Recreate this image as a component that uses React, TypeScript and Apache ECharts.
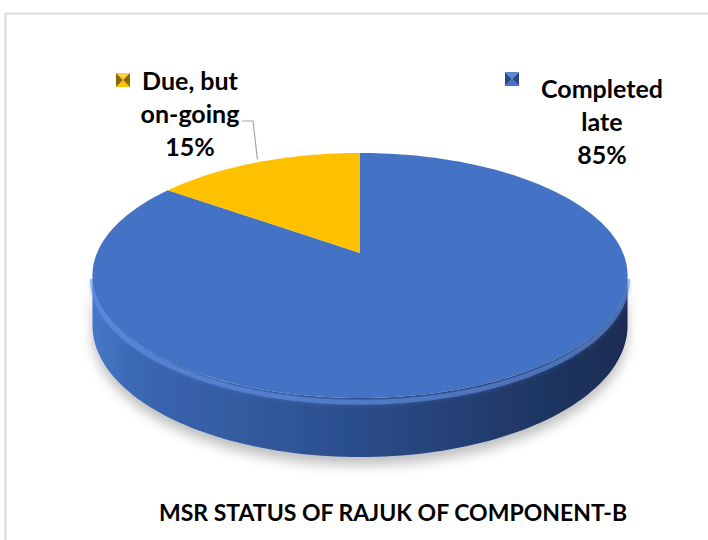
import React, { useEffect, useRef } from "react";
import * as echarts from "echarts";

// ---- data ----
const categories = ["Completed late", "Due, but on-going"];
const values = [85, 15];
const labelLines = [["Completed", "late"], ["Due, but", "on-going"]];
const sliceColors = ["#4472C4", "#FFC000"];
const markerDark = ["#2a4a85", "#8a6a00"];
const markerLight = ["#5b86d6", "#ffd040"];
const title = "MSR STATUS OF RAJUK OF COMPONENT-B";

// ---- layout (positions, not data) ----
const labelLayout = [
  { x: 602, y: 121, marker: [505, 72], leader: null as null | number[][] },
  { x: 190, y: 113, marker: [116, 73], leader: [[242, 121], [253, 121]] },
];

const total = values.reduce((a, b) => a + b, 0);
const starts: number[] = [];
{
  let acc = 0;
  values.forEach((v) => {
    starts.push(acc);
    acc += v;
  });
}

// perspective disc geometry
const CX = 360,
  CY = 253,
  A = 263,
  B = 118.4,
  K = 0.1837,
  H = 48.2;

function proj(t: number, h: number): number[] {
  const u = Math.cos(t),
    v = Math.sin(t);
  const d = 1 + K * v;
  return [CX + (A * u) / d, CY - (B * v) / d + (H * h) / d];
}

function arc(t0: number, t1: number, h: number): number[][] {
  const n = Math.max(2, Math.ceil((Math.abs(t1 - t0) / (Math.PI * 2)) * 240));
  const pts: number[][] = [];
  for (let i = 0; i <= n; i++) {
    pts.push(proj(t0 + ((t1 - t0) * i) / n, h));
  }
  return pts;
}

const FONT = "Lato, 'Open Sans', sans-serif";

function renderItem(params: any, api: any) {
  const idx = params.dataIndex;
  const v = api.value(0);
  const f0 = starts[idx] / total;
  const f1 = (starts[idx] + v) / total;
  const tStart = Math.PI / 2 - 2 * Math.PI * f0;
  const tEnd = Math.PI / 2 - 2 * Math.PI * f1;
  const children: any[] = [];

  // visible side
  const vlo = -Math.PI + Math.asin(K);
  const vhi = -Math.asin(K);
  for (let n = -1; n <= 1; n++) {
    const lo = Math.max(tEnd, vlo + 2 * Math.PI * n);
    const hi = Math.min(tStart, vhi + 2 * Math.PI * n);
    if (hi > lo) {
      const top = arc(hi, lo, 0);
      const bot = arc(lo, hi, 1);
      children.push({
        type: "polygon",
        shape: { points: top.concat(bot) },
        style: {
          fill: new echarts.graphic.LinearGradient(0, 0, 1, 0, [
            { offset: 0, color: "#4677c8" },
            { offset: 0.08, color: "#3b67b2" },
            { offset: 0.45, color: "#2d5090" },
            { offset: 0.8, color: "#203866" },
            { offset: 1, color: "#1a2c52" },
          ]),
          shadowColor: "rgba(0,0,0,0.25)",
          shadowBlur: 12,
          shadowOffsetY: 8,
        },
      });
      children.push({
        type: "polyline",
        shape: { points: arc(hi, lo, 0.07) },
        style: {
          stroke: "rgba(100,145,230,0.55)",
          lineWidth: 5,
          fill: null,
          shadowColor: "rgba(100,145,230,0.6)",
          shadowBlur: 4,
        },
      });
    }
  }

  // top face
  const topPts = [[CX, CY]].concat(arc(tStart, tEnd, 0));
  children.push({
    type: "polygon",
    shape: { points: topPts },
    style: { fill: sliceColors[idx] },
  });

  // label
  const L = labelLayout[idx];
  const pct = Math.round((v / total) * 100) + "%";
  children.push({
    type: "text",
    style: {
      text: labelLines[idx].concat([pct]).join("\n"),
      x: L.x,
      y: L.y,
      textAlign: "center",
      textVerticalAlign: "middle",
      font: `bold 25px ${FONT}`,
      lineHeight: 33,
      fill: "#000000",
    },
  });
  // legend key marker
  const [mx, my] = L.marker;
  const s = 14;
  const c = [mx + s / 2, my + s / 2];
  children.push(
    { type: "polygon", shape: { points: [[mx, my], [mx + s, my], c] }, style: { fill: markerLight[idx] } },
    { type: "polygon", shape: { points: [[mx, my + s], [mx + s, my + s], c] }, style: { fill: sliceColors[idx] } },
    { type: "polygon", shape: { points: [[mx, my], [mx, my + s], c] }, style: { fill: markerDark[idx] } },
    { type: "polygon", shape: { points: [[mx + s, my], [mx + s, my + s], c] }, style: { fill: markerDark[idx] } }
  );
  // leader line
  if (L.leader) {
    const mid = (tStart + tEnd) / 2;
    const end = proj(mid, 0);
    children.push({
      type: "polyline",
      shape: { points: L.leader.concat([[end[0], end[1] - 3]]) },
      style: { stroke: "#a6a6a6", lineWidth: 1.2, fill: null },
    });
  }

  return { type: "group", children };
}

export default function App() {
  const ref = useRef<HTMLDivElement>(null);
  useEffect(() => {
    if (!ref.current) return;
    const chart = echarts.init(ref.current, null, { renderer: "svg" });
    chart.setOption({
      animation: false,
      backgroundColor: "#ffffff",
      graphic: [
        {
          type: "rect",
          shape: { x: 5.5, y: 13.5, width: 800, height: 700 },
          style: { fill: "none", stroke: "#d9d9d9", lineWidth: 2 },
          silent: true,
        },
        {
          type: "text",
          style: {
            text: title,
            x: 393,
            y: 512,
            textAlign: "center",
            textVerticalAlign: "middle",
            font: `bold 23px ${FONT}`,
            fill: "#000000",
          },
        },
      ],
      series: [
        {
          type: "custom",
          coordinateSystem: "none",
          renderItem,
          silent: true,
          data: values.map((v, i) => ({ name: categories[i], value: [v] })),
        },
      ],
    });
    return () => chart.dispose();
  }, []);
  return (
    <div
      ref={ref}
      style={{ position: "fixed", left: 0, top: 0, width: 708, height: 540 }}
    />
  );
}
